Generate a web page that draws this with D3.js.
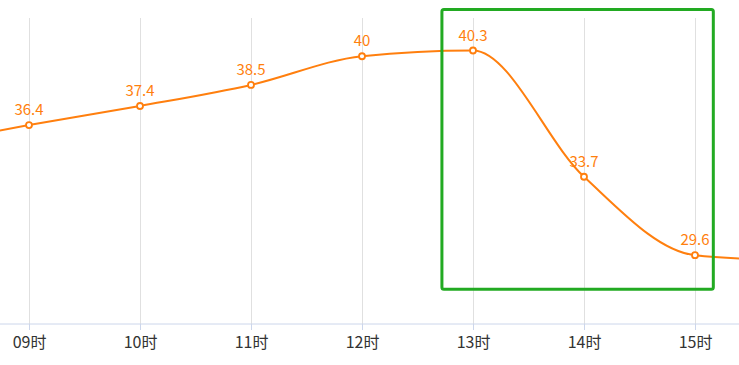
<!DOCTYPE html>
<html>
<head>
<meta charset="utf-8">
<script src="https://cdn.jsdelivr.net/npm/d3@7/dist/d3.min.js"></script>
<style>
html,body{margin:0;padding:0;background:#fff;}
svg{display:block;overflow:hidden;}
</style>
</head>
<body>
<div id="chart"></div>
<script>
// Data
const categories = ['08时','09时','10时','11时','12时','13时','14时','15时','16时'];
const values = [35.3, 36.4, 37.4, 38.5, 40, 40.3, 33.7, 29.6, 29.3];
const yDomain = [26, 42];
// Highlight box (in category-index / value terms)
const boxStartIndex = 5 - 0.28;
const boxEndIndex = 7 + 0.165;
const boxTopValue = 42.45;
const boxBottomValue = 27.82;

const W = 739, H = 365;
const svg = d3.select('#chart').append('svg').attr('width', W).attr('height', H);

const x = d3.scalePoint().domain(categories).range([-82, 806]);
const step = x.step();
const xi = i => x(categories[0]) + i * step;
const y = d3.scaleLinear().domain(yDomain).range([324, 18]);
const visible = c => x(c) >= 0 && x(c) <= W;

const font = '"Microsoft YaHei","Noto Sans CJK SC","Noto Sans",sans-serif';

// vertical grid lines
svg.append('g').selectAll('line').data(categories.filter(visible)).join('line')
  .attr('x1', d => x(d)).attr('x2', d => x(d))
  .attr('y1', y(yDomain[1])).attr('y2', y(yDomain[0]))
  .attr('stroke', '#e0e0e0').attr('stroke-width', 1).attr('shape-rendering', 'crispEdges');

// x axis
const xAxis = d3.axisBottom(x).tickValues(categories.filter(visible))
  .tickSize(6).tickPadding(7).tickSizeOuter(0);
const gx = svg.append('g').attr('transform', `translate(0,${y(yDomain[0])})`).call(xAxis);
gx.select('.domain').attr('stroke', '#ccd6eb').attr('d', `M0,0H${W}`);
gx.selectAll('.tick line').attr('stroke', '#ccd6eb');
gx.selectAll('.tick text').attr('fill', '#333').style('font-size', '16px').style('font-family', font);

// line
const line = d3.line()
  .x((d, i) => x(categories[i]))
  .y(d => y(d))
  .curve(d3.curveMonotoneX);
svg.append('path').datum(values)
  .attr('d', line)
  .attr('fill', 'none').attr('stroke', '#ff7f0e').attr('stroke-width', 2);

const pts = values.map((v, i) => ({v, c: categories[i]})).filter(d => visible(d.c));

// points
svg.append('g').selectAll('circle').data(pts).join('circle')
  .attr('cx', d => x(d.c)).attr('cy', d => y(d.v))
  .attr('r', 3).attr('fill', '#fff').attr('stroke', '#ff7f0e').attr('stroke-width', 1.8);

// labels
svg.append('g').selectAll('text').data(pts).join('text')
  .attr('x', d => x(d.c)).attr('y', d => y(d.v) - 10)
  .attr('text-anchor', 'middle')
  .attr('fill', '#ff7f0e')
  .style('font-size', '15px').style('font-family', font)
  .text(d => d.v);

// highlight box
svg.append('rect')
  .attr('x', xi(boxStartIndex)).attr('y', y(boxTopValue))
  .attr('width', xi(boxEndIndex) - xi(boxStartIndex))
  .attr('height', y(boxBottomValue) - y(boxTopValue))
  .attr('rx', 2).attr('fill', 'none')
  .attr('stroke', '#22aa22').attr('stroke-width', 3);
</script>
</body>
</html>
